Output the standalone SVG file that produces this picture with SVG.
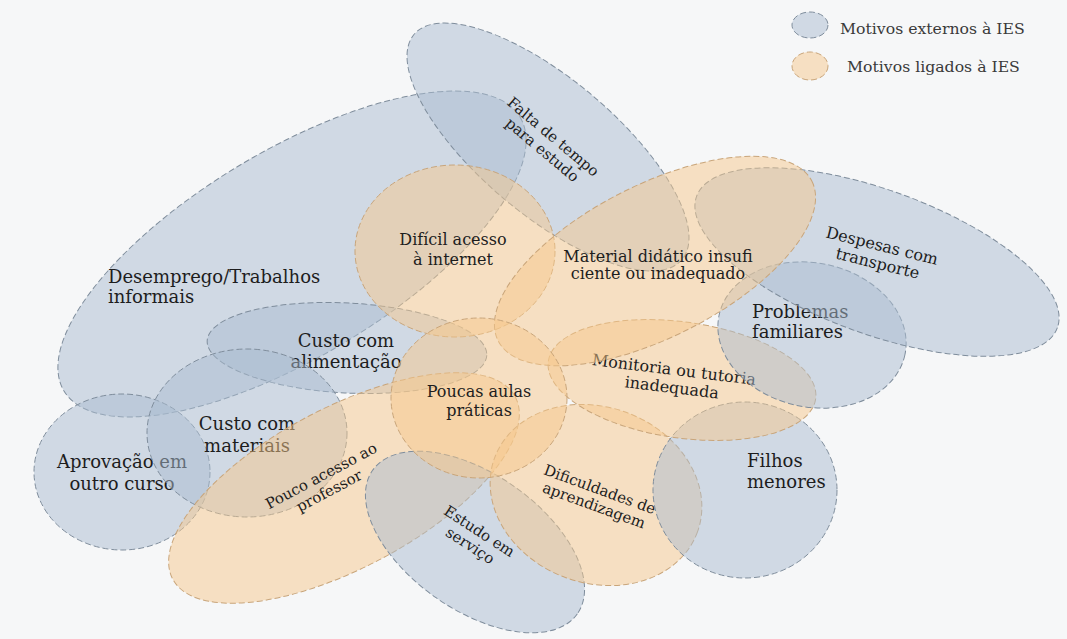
<svg xmlns="http://www.w3.org/2000/svg" width="1067" height="639" viewBox="0 0 1067 639">
<style>
.ext{fill:#a9bccf;fill-opacity:0.5;stroke:#7f8d9c;stroke-width:1;stroke-dasharray:6 3}
.ies{fill:#f6c88c;fill-opacity:0.5;stroke:#c9a57a;stroke-width:1;stroke-dasharray:6 3}
.lbl{font-family:"DejaVu Serif","Liberation Serif",serif;fill:#1d1d1d;text-anchor:middle}
.lbls{font-family:"DejaVu Serif","Liberation Serif",serif;fill:#1d1d1d;text-anchor:start}
.leg{font-family:"DejaVu Serif","Liberation Serif",serif;fill:#3a3a3a;font-size:15.7px}
</style>
<rect width="1067" height="639" fill="#f6f7f8"/>
<g id="legend">
<ellipse class="ext" cx="810" cy="25" rx="18" ry="13"/>
<text class="leg" x="840" y="34">Motivos externos à IES</text>
<ellipse class="ies" cx="810" cy="66" rx="18" ry="14"/>
<text class="leg" x="847" y="72">Motivos ligados à IES</text>
</g>
<g id="desemprego"><ellipse class="ext" cx="292" cy="254" rx="266" ry="103" transform="rotate(-31 292 254)"/>
<text class="lbls" font-size="18"><tspan x="108" y="283">Desemprego/Trabalhos</tspan><tspan x="108" y="303">informais</tspan></text></g>
<g id="falta"><ellipse class="ext" cx="548" cy="147" rx="175" ry="68" transform="rotate(40 548 147)"/>
<text class="lbl" font-size="15" transform="translate(548 143) rotate(40)"><tspan x="0" y="-3">Falta de tempo</tspan><tspan x="0" y="14">para estudo</tspan></text></g>
<g id="alimentacao"><ellipse class="ext" cx="347" cy="348" rx="140" ry="45" transform="rotate(3 347 348)"/>
<text class="lbl" font-size="18"><tspan x="346" y="347">Custo com</tspan><tspan x="346" y="368">alimentação</tspan></text></g>
<g id="aprovacao"><ellipse class="ext" cx="122" cy="472" rx="88" ry="78"/>
<text class="lbl" font-size="18"><tspan x="122" y="468">Aprovação em</tspan><tspan x="122" y="490">outro curso</tspan></text></g>
<g id="materiais"><ellipse class="ext" cx="247" cy="433" rx="100" ry="84"/>
<text class="lbl" font-size="18"><tspan x="247" y="430">Custo com</tspan><tspan x="247" y="452">materiais</tspan></text></g>
<g id="dificil"><ellipse class="ies" cx="455" cy="251" rx="100" ry="86"/>
<text class="lbl" font-size="16"><tspan x="453" y="245">Difícil acesso</tspan><tspan x="453" y="265">à internet</tspan></text></g>
<g id="pouco"><ellipse class="ies" cx="344" cy="488" rx="194" ry="80" transform="rotate(-28 344 488)"/>
<text class="lbl" font-size="15" transform="translate(325 483) rotate(-28)"><tspan x="0" y="-3">Pouco acesso ao</tspan><tspan x="0" y="14">professor</tspan></text></g>
<g id="estudo"><ellipse class="ext" cx="475" cy="542" rx="125" ry="68" transform="rotate(35 475 542)"/>
<text class="lbl" font-size="15" transform="translate(475 538) rotate(33)"><tspan x="0" y="-3">Estudo em</tspan><tspan x="0" y="14">serviço</tspan></text></g>
<g id="dificuldades"><ellipse class="ies" cx="596" cy="495" rx="108" ry="88" transform="rotate(20 596 495)"/>
<text class="lbl" font-size="15" transform="translate(597 497) rotate(20)"><tspan x="0" y="-3">Dificuldades de</tspan><tspan x="0" y="14">aprendizagem</tspan></text></g>
<g id="filhos"><ellipse class="ext" cx="745" cy="490" rx="92" ry="88"/>
<text class="lbls" font-size="18"><tspan x="747" y="467">Filhos</tspan><tspan x="747" y="488">menores</tspan></text></g>
<g id="monitoria"><ellipse class="ies" cx="682" cy="380" rx="135" ry="58" transform="rotate(8 682 380)"/>
<text class="lbl" font-size="16" transform="translate(673 378) rotate(7)"><tspan x="0" y="-3">Monitoria ou tutoria</tspan><tspan x="0" y="15">inadequada</tspan></text></g>
<g id="problemas"><ellipse class="ext" cx="812" cy="335" rx="95" ry="72" transform="rotate(12 812 335)"/>
<text class="lbls" font-size="18"><tspan x="752" y="318">Problemas</tspan><tspan x="752" y="338">familiares</tspan></text></g>
<g id="despesas"><ellipse class="ext" cx="877" cy="262" rx="192" ry="72" transform="rotate(20 877 262)"/>
<text class="lbl" font-size="16" transform="translate(880 254) rotate(14)"><tspan x="0" y="-3">Despesas com</tspan><tspan x="0" y="15">transporte</tspan></text></g>
<g id="material"><ellipse class="ies" cx="655" cy="261" rx="176" ry="76" transform="rotate(-27 655 261)"/>
<text class="lbl" font-size="16"><tspan x="658" y="262">Material didático insufi</tspan><tspan x="658" y="279">ciente ou inadequado</tspan></text></g>
<g id="poucas"><ellipse class="ies" cx="479" cy="398" rx="88" ry="80"/>
<text class="lbl" font-size="16"><tspan x="479" y="397">Poucas aulas</tspan><tspan x="479" y="416">práticas</tspan></text></g>
<g id="connectors"/>
</svg>
